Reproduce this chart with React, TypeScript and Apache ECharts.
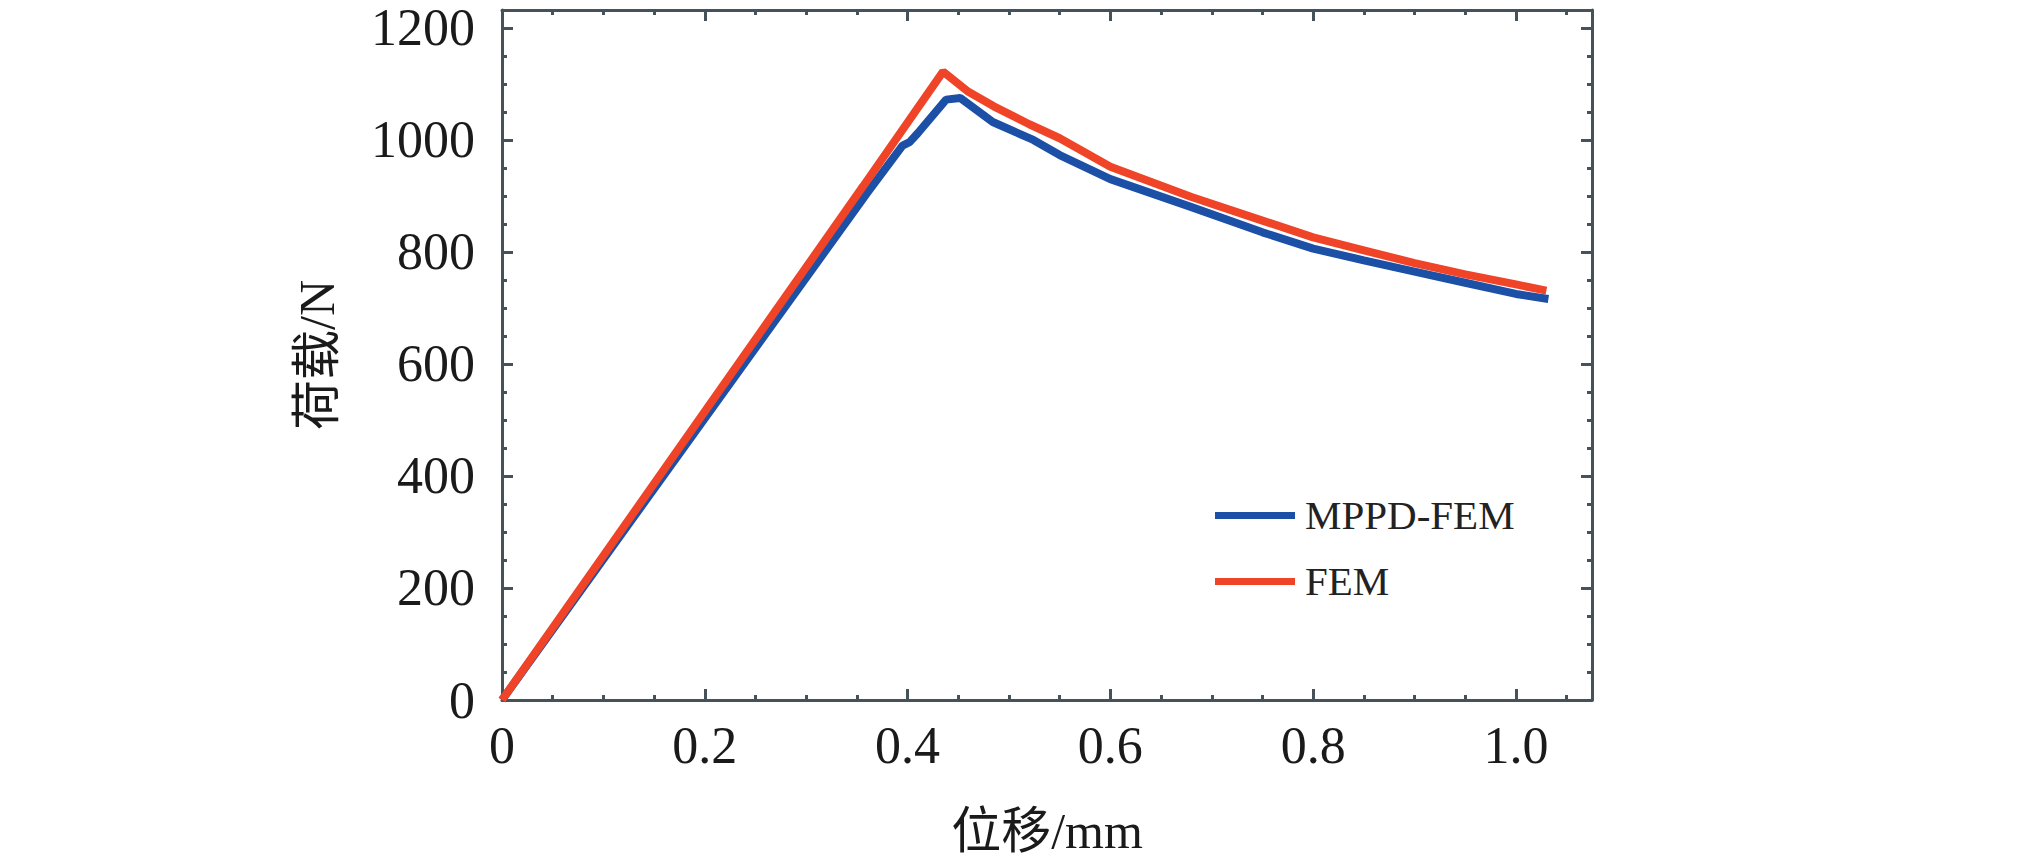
import React, { useEffect, useRef } from "react";
import * as echarts from "echarts";

// Displacement (mm) and load (N)
const mppdX = [0, 0.36, 0.395, 0.402, 0.41, 0.438, 0.452, 0.484, 0.524, 0.55, 0.6, 0.68, 0.75, 0.8, 0.85, 0.9, 0.95, 1.0, 1.032];
const mppdY = [0, 905, 990, 996, 1012, 1072, 1075, 1032, 1000, 973, 930, 880, 835, 806, 785, 765, 745, 725, 716];
const femX = [0, 0.356, 0.435, 0.46, 0.485, 0.52, 0.55, 0.6, 0.68, 0.75, 0.8, 0.85, 0.9, 0.95, 1.0, 1.03];
const femY = [0, 917, 1122, 1086, 1060, 1028, 1003, 952, 898, 856, 826, 803, 780, 760, 742, 731];

const seriesNames = ["MPPD-FEM", "FEM"];
const seriesColors = ["#1c4fa6", "#ef4427"];
const xAxisTitle = "位移/mm";
const yAxisTitle = "荷载/N";

const FONT = "'Liberation Serif', 'Noto Sans CJK SC', serif";
const AXIS_COLOR = "#46525a";

export default function App() {
  const ref = useRef<HTMLDivElement>(null);
  useEffect(() => {
    if (!ref.current) return;
    const chart = echarts.init(ref.current, null, { renderer: "svg" });
    const baseAxis = {
      axisLine: { show: true, onZero: false, lineStyle: { color: AXIS_COLOR, width: 3 } },
      axisTick: { show: true, inside: true, length: 11, lineStyle: { color: AXIS_COLOR, width: 3 } },
      minorTick: { show: true, splitNumber: 4, length: 5, lineStyle: { color: AXIS_COLOR, width: 3 } },
      splitLine: { show: false },
      minorSplitLine: { show: false },
    };
    const xCommon = { type: "value" as const, min: 0, max: 1.075, interval: 0.2 };
    const yCommon = { type: "value" as const, min: 0, max: 1232, interval: 200 };
    chart.setOption({
      animation: false,
      backgroundColor: "#ffffff",
      grid: { left: 502, top: 10, width: 1090, height: 690, containLabel: false },
      legend: {
        orient: "vertical",
        left: 1210,
        top: 490,
        icon: "rect",
        itemWidth: 80,
        itemHeight: 7,
        itemGap: 25,
        data: seriesNames,
        textStyle: { fontFamily: FONT, fontSize: 41, color: "#222222", padding: [0, 0, 0, 5] },
      },
      xAxis: [
        {
          ...xCommon,
          ...baseAxis,
          position: "bottom",
          name: xAxisTitle,
          nameLocation: "middle",
          nameGap: 106,
          nameTextStyle: { fontFamily: FONT, fontSize: 50, color: "#1a1a1a", verticalAlign: "top" },
          axisLabel: {
            show: true,
            margin: 19,
            fontFamily: FONT,
            fontSize: 52,
            color: "#1a1a1a",
            showMaxLabel: false,
            formatter: (v: number) => (v === 0 ? "0" : v.toFixed(1)),
          },
        },
        {
          ...xCommon,
          ...baseAxis,
          position: "top",
          axisLabel: { show: false },
        },
      ],
      yAxis: [
        {
          ...yCommon,
          ...baseAxis,
          position: "left",
          name: yAxisTitle,
          nameLocation: "middle",
          nameGap: 160,
          nameRotate: 90,
          nameTextStyle: { fontFamily: FONT, fontSize: 50, color: "#1a1a1a" },
          axisLabel: {
            show: true,
            margin: 27,
            fontFamily: FONT,
            fontSize: 52,
            color: "#1a1a1a",
            showMaxLabel: false,
            formatter: (v: number) => String(Math.round(v)),
          },
        },
        {
          ...yCommon,
          ...baseAxis,
          position: "right",
          axisLabel: { show: false },
        },
      ],
      series: [
        {
          name: seriesNames[0],
          type: "line",
          xAxisIndex: 0,
          yAxisIndex: 0,
          symbol: "none",
          showSymbol: false,
          color: seriesColors[0],
          lineStyle: { color: seriesColors[0], width: 8 },
          data: mppdX.map((x, i) => [x, mppdY[i]]),
        },
        {
          name: seriesNames[1],
          type: "line",
          xAxisIndex: 0,
          yAxisIndex: 0,
          symbol: "none",
          showSymbol: false,
          color: seriesColors[1],
          lineStyle: { color: seriesColors[1], width: 8 },
          data: femX.map((x, i) => [x, femY[i]]),
        },
      ],
    });
    return () => chart.dispose();
  }, []);
  return (
    <div
      ref={ref}
      style={{ position: "fixed", left: 0, top: 0, width: 2032, height: 864, background: "#fff" }}
    />
  );
}
